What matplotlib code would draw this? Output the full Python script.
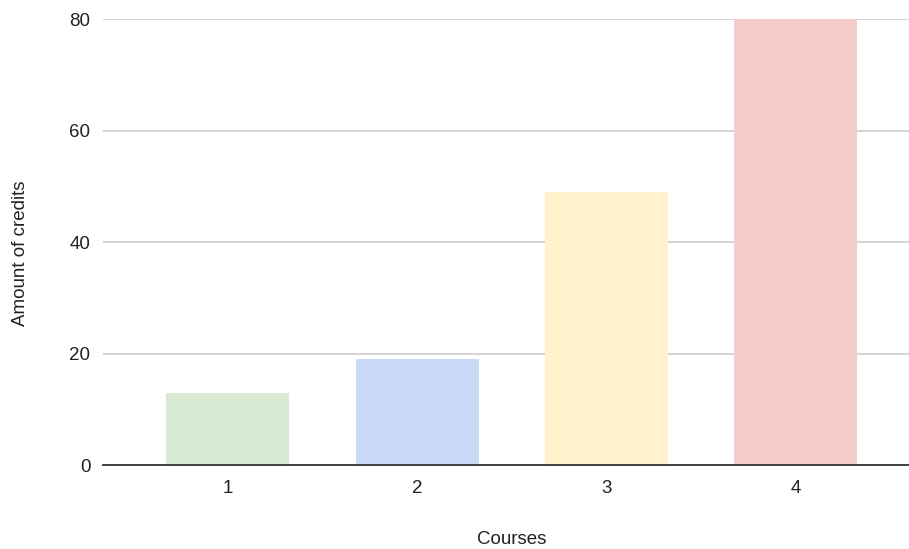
import matplotlib.pyplot as plt

plt.rcParams['font.family'] = ['Liberation Sans', 'DejaVu Sans']

courses = ["1", "2", "3", "4"]
credits = [13, 19, 49, 80]
bar_colors = ["#d9ead3", "#c9daf8", "#fff2cc", "#f4cccc"]

fig = plt.figure(figsize=(9.09, 5.49), dpi=100)
ax = fig.add_axes([0.1133, 0.153, 0.8867, 0.812])

xpos = range(1, len(courses) + 1)
ax.bar(xpos, credits, width=0.65, color=bar_colors, zorder=2)

ax.set_xlim(0.34, 4.60)
ax.set_ylim(0, 80)
ax.set_yticks([0, 20, 40, 60, 80])
ax.set_xticks(list(xpos))
ax.set_xticklabels(courses)

# light horizontal gridlines, dark baseline
ax.yaxis.grid(True, color="#cccccc", linewidth=1.2, zorder=0)
for side in ["top", "right", "left"]:
    ax.spines[side].set_visible(False)
ax.spines["bottom"].set_color("#333333")
ax.spines["bottom"].set_linewidth(1.3)
ax.spines["bottom"].set_zorder(3)

ax.tick_params(axis="both", length=0, labelsize=13.5, labelcolor="#222222")
ax.tick_params(axis="y", pad=9)
ax.tick_params(axis="x", pad=11)

ax.set_xlabel("Courses", fontsize=13.5, color="#222222", labelpad=24, x=0.507)
ax.set_ylabel("Amount of credits", fontsize=13.5, color="#222222", labelpad=29, y=0.475)

fig.savefig("out.png", dpi=100)
